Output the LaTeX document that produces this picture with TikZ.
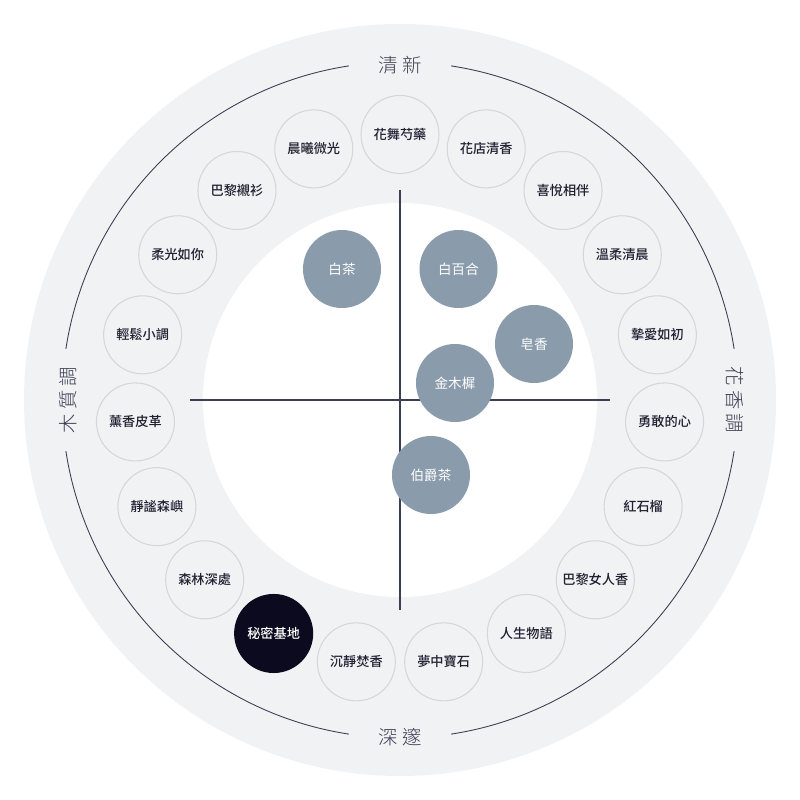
\documentclass[tikz,border=0pt]{standalone}
\usepackage{fontspec}
\setmainfont{Noto Sans CJK TC}
\newfontfamily\medfont{Noto Sans CJK TC Medium}
\newfontfamily\thinfont{Noto Sans CJK TC Light}
\definecolor{bggray}{HTML}{F1F2F4}
\definecolor{rimgray}{HTML}{D5D6DA}
\definecolor{lineink}{HTML}{3B3E52}
\definecolor{slate}{HTML}{8A9BAC}
\definecolor{night}{HTML}{0B0A1E}
\definecolor{ink}{HTML}{1F2030}
\tikzset{
  ringnode/.style={circle,draw=rimgray,line width=0.6pt,fill=bggray,minimum size=1.56cm,inner sep=0pt,text=ink,font=\medfont\fontsize{7.5}{9}\selectfont},
  darknode/.style={ringnode,draw=night,fill=night,text=white},
  noteblob/.style={circle,fill=slate,minimum size=1.56cm,inner sep=0pt,text=white,font=\fontsize{7.7}{9}\selectfont},
  ringline/.style={draw=lineink,line width=0.5pt},
  axisline/.style={draw=lineink,line width=0.6pt},
  catlabel/.style={text=lineink,font=\thinfont\fontsize{11}{13}\selectfont}
}

\begin{document}
\begin{tikzpicture}
\useasboundingbox (-8,-8) rectangle (8,8);
\fill[bggray] (0,0) circle (7.52);
\fill[white] (0,0) circle (3.94);

% ring with gaps for the labels
\draw[ringline] (8.7:6.76) arc (8.7:81.3:6.76);
\draw[ringline] (98.7:6.76) arc (98.7:171.3:6.76);
\draw[ringline] (188.7:6.76) arc (188.7:261.3:6.76);
\draw[ringline] (278.7:6.76) arc (278.7:351.3:6.76);

\node[catlabel] (fresh) at (0,6.7) {清 新};
\node[catlabel,rotate=-90] (floral) at (6.7,0) {花 香 調};
\node[catlabel] (deep) at (0,-6.74) {深 邃};
\node[catlabel,rotate=90] (woody) at (-6.64,0) {木 質 調};

% scents on the ring
\node[ringnode] (r0) at (90:5.31) {花舞芍藥};
\node[ringnode] (r1) at (71.05:5.31) {花店清香};
\node[ringnode] (r2) at (52.11:5.31) {喜悅相伴};
\node[ringnode] (r3) at (33.16:5.31) {溫柔清晨};
\node[ringnode] (r4) at (14.21:5.31) {摯愛如初};
\node[ringnode] (r5) at (-4.74:5.31) {勇敢的心};
\node[ringnode] (r6) at (-23.68:5.31) {紅石榴};
\node[ringnode] (r7) at (-42.63:5.31) {巴黎女人香};
\node[ringnode] (r8) at (-61.58:5.31) {人生物語};
\node[ringnode] (r9) at (-80.53:5.31) {夢中寶石};
\node[ringnode] (r10) at (-99.47:5.31) {沉靜焚香};
\node[darknode] (r11) at (-118.42:5.31) {秘密基地};
\node[ringnode] (r12) at (-137.37:5.31) {森林深處};
\node[ringnode] (r13) at (-156.32:5.31) {靜謐森嶼};
\node[ringnode] (r14) at (-175.26:5.31) {薰香皮革};
\node[ringnode] (r15) at (165.79:5.31) {輕鬆小調};
\node[ringnode] (r16) at (146.84:5.31) {柔光如你};
\node[ringnode] (r17) at (127.89:5.31) {巴黎襯衫};
\node[ringnode] (r18) at (108.95:5.31) {晨曦微光};

% axes
\coordinate (top) at (0,4.2);
\coordinate (bottom) at (0,-4.2);
\coordinate (left) at (-4.2,0);
\coordinate (right) at (4.2,0);
\draw[axisline] (top) -- (bottom);
\draw[axisline] (left) -- (right);

% notes inside
\node[noteblob] (whitetea) at (-1.16,2.62) {白茶};
\node[noteblob] (lily) at (1.17,2.62) {白百合};
\node[noteblob] (soap) at (2.68,1.12) {皂香};
\node[noteblob] (osmanthus) at (1.10,0.34) {金木樨};
\node[noteblob] (earlgrey) at (0.62,-1.50) {伯爵茶};
\end{tikzpicture}
\end{document}
